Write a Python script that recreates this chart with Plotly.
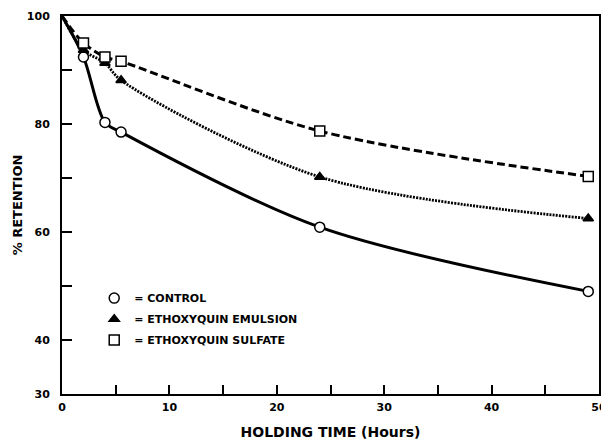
import plotly.graph_objects as go

hours = [0, 2, 4, 5.5, 24, 49]
control = [100, 92.4, 80.3, 78.5, 60.9, 49.0]
emulsion = [100, 93.7, 91.3, 88.1, 70.2, 62.5]
sulfate = [100, 95.0, 92.4, 91.6, 78.7, 70.3]

x_tickvals = [0, 5, 10, 15, 20, 25, 30, 35, 40, 45, 50]
x_ticktext = ["0", "", "10", "", "20", "", "30", "", "40", "", "50"]
y_tickvals = [30, 40, 50, 60, 70, 80, 90, 100]
y_ticktext = ["30", "40", "", "60", "", "80", "", "100"]

series = [
    ("= CONTROL", control, "solid", 3, "circle"),
    ("= ETHOXYQUIN EMULSION", emulsion, "2px,1.2px", 2.8, "triangle-up"),
    ("= ETHOXYQUIN SULFATE", sulfate, "8px,4px", 3, "square"),
]

fig = go.Figure()
for name, vals, dash, w, sym in series:
    fig.add_trace(go.Scatter(x=hours, y=vals, mode="lines",
                             line=dict(color="black", width=w, dash=dash, shape="spline", smoothing=0.9),
                             showlegend=False, hoverinfo="skip"))
for i, (name, vals, dash, w, sym) in enumerate(series):
    filled = sym == "triangle-up"
    mk = dict(symbol=sym, size=9 if filled else 10,
              color="black" if filled else "white",
              line=dict(color="black", width=1.5))
    fig.add_trace(go.Scatter(x=hours[1:], y=vals[1:], mode="markers",
                             marker=mk, showlegend=False, hoverinfo="skip"))
    fig.add_trace(go.Scatter(x=[None], y=[None], mode="markers", name=name,
                             legendgroup="g%d" % i, marker=mk))

# the page body has an 8px default margin, so the figure is sized to fit the window
font_family = "DejaVu Sans"
fig.update_layout(
    width=601, height=432,
    margin=dict(l=54, r=10, t=8, b=46),
    plot_bgcolor="white", paper_bgcolor="white",
    font=dict(family=font_family, color="black", size=11),
    legend=dict(x=0.06, y=0.292, xanchor="left", yanchor="top",
                bgcolor="rgba(0,0,0,0)", borderwidth=0,
                font=dict(family=font_family, size=11, color="black", weight="bold"),
                itemwidth=30, tracegroupgap=2),
    xaxis=dict(range=[0, 50], tickvals=x_tickvals, ticktext=x_ticktext,
               ticks="inside", ticklen=9, tickwidth=1.5, tickcolor="black",
               showline=True, linecolor="black", linewidth=2, mirror=True,
               showgrid=False, zeroline=False, automargin=False,
               ticklabelstandoff=2,
               tickfont=dict(family=font_family, size=11, color="black", weight="bold"),
               title=dict(text="HOLDING TIME (Hours)", standoff=14,
                          font=dict(family=font_family, size=14, color="black", weight="bold"))),
    yaxis=dict(range=[30, 100], tickvals=y_tickvals, ticktext=y_ticktext,
               ticks="inside", ticklen=10, tickwidth=1.5, tickcolor="black",
               showline=True, linecolor="black", linewidth=2, mirror=True,
               showgrid=False, zeroline=False, automargin=False,
               ticklabelstandoff=8,
               tickfont=dict(family=font_family, size=11, color="black", weight="bold"),
               title=dict(text="% RETENTION", standoff=1,
                          font=dict(family=font_family, size=13, color="black", weight="bold"))),
)

fig.write_html("out.html")
